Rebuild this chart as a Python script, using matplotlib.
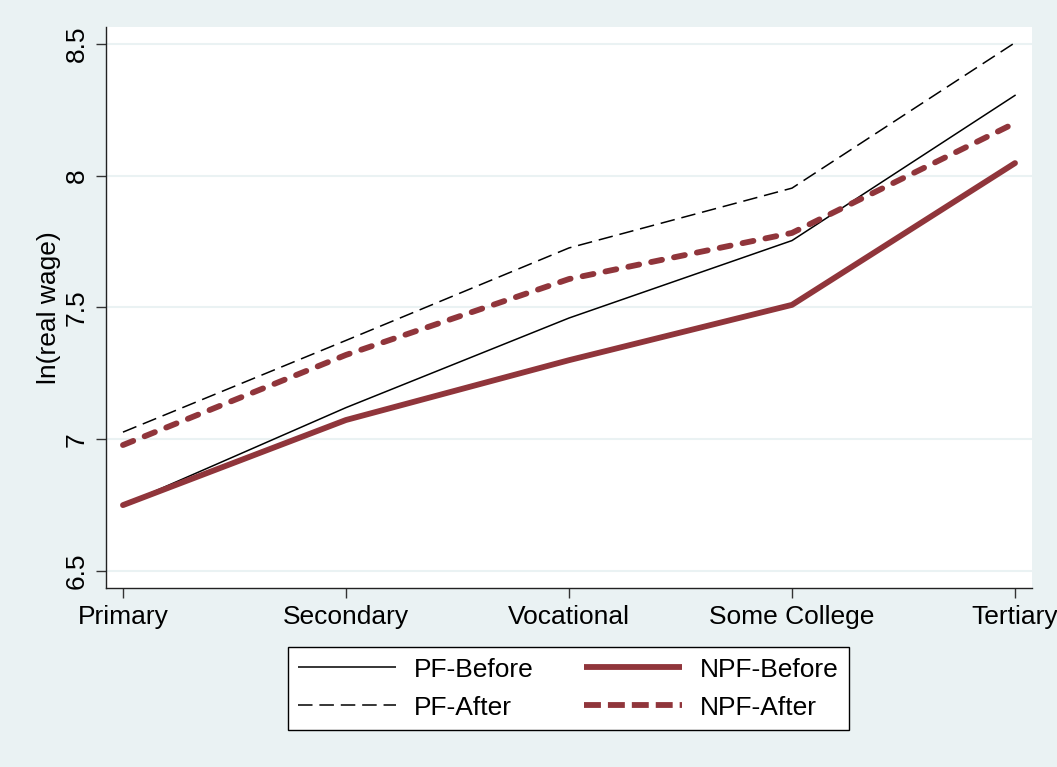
import matplotlib
matplotlib.use("Agg")
import matplotlib.pyplot as plt

categories = ["Primary", "Secondary", "Vocational", "Some College", "Tertiary"]
pf_before = [6.75, 7.12, 7.46, 7.754, 8.305]
pf_after = [7.027, 7.375, 7.726, 7.953, 8.505]
npf_before = [6.75, 7.073, 7.30, 7.51, 8.048]
npf_after = [6.978, 7.32, 7.608, 7.783, 8.20]
yticks = [6.5, 7, 7.5, 8, 8.5]
ytick_labels = ["6.5", "7", "7.5", "8", "8.5"]

plt.rcParams['font.family'] = ['Liberation Sans', 'DejaVu Sans']

BG = "#EAF2F3"
RED = "#90353B"
FS = 19

fig = plt.figure(figsize=(10.57, 7.67), dpi=100, facecolor=BG)
ax = fig.add_axes([0.1003, 0.2334, 0.8760, 0.7314])
ax.set_facecolor("white")

x = list(range(len(categories)))
ax.plot(x, pf_before, color="black", lw=1.1, label="PF-Before")
ax.plot(x, npf_before, color=RED, lw=4.2, solid_capstyle="round",
        solid_joinstyle="round", label="NPF-Before")
ax.plot(x, pf_after, color="black", lw=1.1, dashes=[9.5, 4.5], label="PF-After")
ax.plot(x, npf_after, color=RED, lw=4.2, dashes=[1.9, 2.1], dash_capstyle="round",
        dash_joinstyle="round", label="NPF-After")

ax.set_xlim(-0.076, 4.076)
ax.set_ylim(6.4355, 8.5645)
ax.set_xticks(x)
ax.set_xticklabels(categories, fontsize=FS)
ax.set_yticks(yticks)
ax.set_yticklabels(ytick_labels, fontsize=FS, rotation=90, va="center")
ax.set_ylabel("ln(real wage)", fontsize=FS, labelpad=3)

for s in ["top", "right"]:
    ax.spines[s].set_visible(False)
for s in ["left", "bottom"]:
    ax.spines[s].set_color("#222222")
    ax.spines[s].set_linewidth(1.0)
ax.tick_params(axis="both", direction="out", length=7.2, width=1.0, color="#333333", pad=5)
ax.yaxis.grid(True, color=BG, lw=1.5)
ax.set_axisbelow(True)

handles, labels = ax.get_legend_handles_labels()
order = [0, 2, 1, 3]
leg = fig.legend([handles[i] for i in order], [labels[i] for i in order],
                 ncol=2, loc="center", bbox_to_anchor=(0.5378, 0.1023),
                 fontsize=FS, frameon=True, fancybox=False,
                 edgecolor="black", facecolor="white", framealpha=1,
                 handlelength=3.7, handletextpad=0.7, columnspacing=1.9,
                 borderpad=0.39, borderaxespad=0, labelspacing=0.53)
leg.get_frame().set_linewidth(1.0)
lines = leg.get_lines()
for h in lines:
    h.set_dash_capstyle("butt")
    h.set_solid_capstyle("butt")
# legend order: PF-Before, PF-After, NPF-Before, NPF-After
lines[1].set_dashes([9.5, 4.5])
lines[3].set_dashes([2.9, 1.2])

fig.savefig("out.png", dpi=100, facecolor=BG)
